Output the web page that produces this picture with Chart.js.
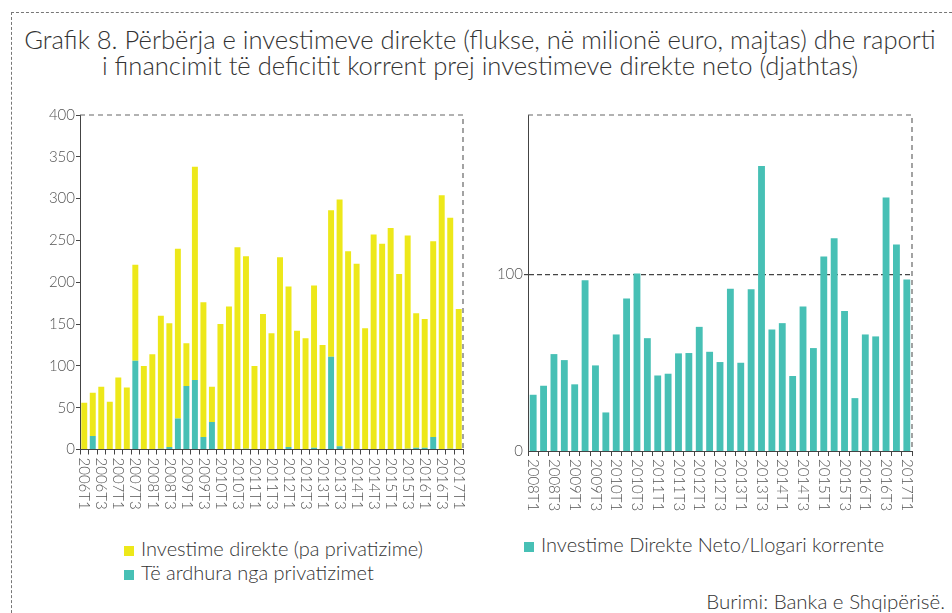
<!DOCTYPE html>
<html>
<head>
<meta charset="utf-8">
<script src="https://cdn.jsdelivr.net/npm/chart.js@4.4.0/dist/chart.umd.min.js"></script>
<style>
  html, body { margin: 0; padding: 0; background: #fff; }
  body { width: 952px; height: 613px; position: relative; overflow: hidden; font-family: Lato, "DejaVu Sans", sans-serif; font-weight: 300; color: #333; }
  #frame { position: absolute; left: 11px; top: 12px; width: 960px; height: 620px; border-top: 1px dashed #777; border-left: 1px dashed #777; }
  #title { position: absolute; left: 0; top: 26px; width: 960px; text-align: center; font-size: 25.6px; line-height: 26px; color: #333; }
  .cv { position: absolute; }
  .legend { position: absolute; font-size: 20px; color: #333; line-height: 24px; }
  .legend span.box { display: inline-block; width: 10px; height: 10px; margin-right: 7px; }
  #source { position: absolute; right: 7px; top: 589px; font-size: 20.5px; color: #333; }
</style>
</head>
<body>
<div id="frame"></div>
<div id="title">Grafik 8. Përbërja e investimeve direkte (flukse, në milionë euro, majtas) dhe raporti<br>i financimit të deficitit korrent prej investimeve direkte neto (djathtas)</div>

<canvas id="leftChart" class="cv" width="445" height="420" style="left:30px;top:105px;width:445px;height:420px"></canvas>
<canvas id="rightChart" class="cv" width="460" height="420" style="left:480px;top:105px;width:460px;height:420px"></canvas>

<div class="legend" style="left:124px;top:536px">
  <div><span class="box" style="background:#EDE81A"></span>Investime direkte (pa privatizime)</div>
  <div><span class="box" style="background:#47C0B5"></span>Të ardhura nga privatizimet</div>
</div>
<div class="legend" style="left:524px;top:532px">
  <div><span class="box" style="background:#47C0B5"></span>Investime Direkte Neto/Llogari korrente</div>
</div>
<div id="source">Burimi: Banka e Shqipërisë.</div>

<script>
// kategorite (tremujore)
const leftLabels = ['2006T1','2006T2','2006T3','2006T4','2007T1','2007T2','2007T3','2007T4',
  '2008T1','2008T2','2008T3','2008T4','2009T1','2009T2','2009T3','2009T4',
  '2010T1','2010T2','2010T3','2010T4','2011T1','2011T2','2011T3','2011T4',
  '2012T1','2012T2','2012T3','2012T4','2013T1','2013T2','2013T3','2013T4',
  '2014T1','2014T2','2014T3','2014T4','2015T1','2015T2','2015T3','2015T4',
  '2016T1','2016T2','2016T3','2016T4','2017T1'];
const rightLabels = leftLabels.slice(8);

// Te ardhura nga privatizimet (milione euro)
const privatizime = [0,16,0,0,0,0,106,0,0,1,3,37,76,83,15,33,0,0,0.5,1,0,0,0,
  0,3,0,0,2,0.5,111,4,1,0,0,0,0,0,0,1,2,2,15,0,1,0];
// Investime direkte pa privatizime (milione euro)
const investimePaPriv = [56,52,75,57,86,74,115,100,114,159,148,203,51,255,161,42,150,171,241.5,230,100,162,139,
  230,192,142,133,194,124.5,175,295,236,222,145,257,246,265,210,255,161,154,234,304,276,168];
// Investime direkte neto / llogari korrente (%)
const raporti = [31.8,36.9,54.8,51.4,37.7,96.6,48.4,21.8,65.9,86.3,100.4,63.8,42.7,43.7,55.2,55.4,70.2,56.1,50.3,
  91.7,49.9,91.5,161.2,68.7,72.3,42.4,81.7,58.2,110,120.3,79.1,29.9,65.9,64.8,143.3,116.8,97];

const leftTicks = [0,50,100,150,200,250,300,350,400];
const rightTicks = [0,100];

const YELLOW = '#EDE81A';
const TEAL = '#47C0B5';
const AXIS = '#444';
const TXT = '#555';
const FONT = 'Lato, "DejaVu Sans", sans-serif';

// korniza me vija (lart + djathtas) dhe etiketat vertikale te boshtit x
const framePlugin = {
  id: 'frameAndLabels',
  afterDraw(chart) {
    const ctx = chart.ctx, a = chart.chartArea, xs = chart.scales.x;
    ctx.save();
    ctx.strokeStyle = '#666';
    ctx.lineWidth = 1.2;
    ctx.setLineDash([5, 4]);
    ctx.beginPath();
    ctx.moveTo(a.left, a.top);
    ctx.lineTo(a.right, a.top);
    ctx.lineTo(a.right, a.bottom);
    ctx.stroke();
    ctx.setLineDash([]);
    ctx.fillStyle = TXT;
    ctx.font = '300 15px ' + FONT;
    ctx.textAlign = 'left';
    ctx.textBaseline = 'middle';
    const labels = chart.data.labels;
    for (let i = 0; i < labels.length; i += 2) {
      const x = xs.getPixelForValue(i);
      ctx.save();
      ctx.translate(x, a.bottom + 8);
      ctx.rotate(Math.PI / 2);
      ctx.fillText(labels[i], 0, 0);
      ctx.restore();
    }
    ctx.restore();
  }
};

let _makeChart = function(id, cfg) {
  return new Chart(document.getElementById(id), cfg);
};

_makeChart('leftChart', {
  type: 'bar',
  data: {
    labels: leftLabels,
    datasets: [
      { label: 'Të ardhura nga privatizimet', data: privatizime, backgroundColor: TEAL,
        barPercentage: 0.7, categoryPercentage: 1 },
      { label: 'Investime direkte (pa privatizime)', data: investimePaPriv, backgroundColor: YELLOW,
        barPercentage: 0.7, categoryPercentage: 1 }
    ]
  },
  options: {
    responsive: false,
    animation: false,
    layout: { padding: { top: 10, right: 12, left: 0, bottom: 0 } },
    plugins: { legend: { display: false }, tooltip: { enabled: false } },
    scales: {
      x: {
        stacked: true,
        ticks: { display: false },
        grid: { drawOnChartArea: false, color: AXIS, tickLength: 5, offset: true },
        border: { color: AXIS, dash: [5, 3] },
        afterFit(s) { s.height = 75.5; }
      },
      y: {
        stacked: true,
        min: 0, max: 400,
        afterBuildTicks(s) { s.ticks = leftTicks.map(v => ({ value: v })); },
        ticks: { color: TXT, font: { family: FONT, size: 15, weight: '300' }, padding: 1 },
        grid: { drawOnChartArea: false, color: AXIS, tickLength: 4 },
        border: { color: AXIS, dash: [5, 3] },
        afterFit(s) { s.width = 50; }
      }
    }
  },
  plugins: [framePlugin]
});

_makeChart('rightChart', {
  type: 'bar',
  data: {
    labels: rightLabels,
    datasets: [
      { label: 'Investime Direkte Neto/Llogari korrente', data: raporti, backgroundColor: TEAL,
        barPercentage: 0.66, categoryPercentage: 1 }
    ]
  },
  options: {
    responsive: false,
    animation: false,
    layout: { padding: { top: 10, right: 28, left: 0, bottom: 0 } },
    plugins: { legend: { display: false }, tooltip: { enabled: false } },
    scales: {
      x: {
        ticks: { display: false },
        grid: { drawOnChartArea: false, color: AXIS, tickLength: 5, offset: true },
        border: { color: AXIS, dash: [5, 3] },
        afterFit(s) { s.height = 74; }
      },
      y: {
        min: 0, max: 190,
        afterBuildTicks(s) { s.ticks = rightTicks.map(v => ({ value: v })); },
        ticks: { color: TXT, font: { family: FONT, size: 15, weight: '300' }, padding: 1 },
        grid: {
          color: AXIS, tickLength: 4,
          lineWidth: ctx => (ctx.tick && ctx.tick.value === 100 ? 1.2 : 0)
        },
        border: { color: AXIS, dash: [5, 3] },
        afterFit(s) { s.width = 48; }
      }
    }
  },
  plugins: [framePlugin]
});
</script>
</body>
</html>
